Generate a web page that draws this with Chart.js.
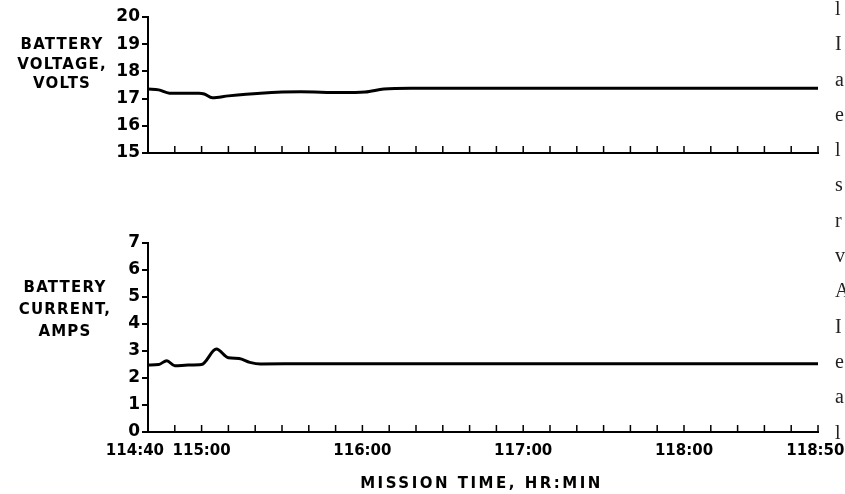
<!DOCTYPE html>
<html>
<head>
<meta charset="utf-8">
<script src="https://cdn.jsdelivr.net/npm/chart.js@4.4.1/dist/chart.umd.min.js"></script>
<style>
  html, body { margin: 0; padding: 0; background: #fff; overflow: hidden; }
  body { width: 845px; height: 494px; position: relative; font-family: "DejaVu Sans", sans-serif; }
  .box { position: absolute; left: 0; width: 845px; }
  .label { position: absolute; text-align: center; font-weight: bold; font-size: 15px; letter-spacing: 1.2px; line-height: 19.5px; color: #000; }
  #xTitle { position: absolute; left: 0; width: 845px; top: 474px; text-align: center; font-weight: bold; font-size: 15px; letter-spacing: 2.5px; padding-left: 118px; box-sizing: border-box; }
  #edge { position: absolute; left: 835px; top: -9px; font-family: "Liberation Serif", serif; font-size: 20px; line-height: 35.3px; color: #222; }
</style>
</head>
<body>
<div class="box" style="top:0;height:170px"><canvas id="voltChart"></canvas></div>
<div class="box" style="top:230px;height:264px"><canvas id="ampChart"></canvas></div>
<div class="label" style="left:2px;top:35px;width:120px">BATTERY<br>VOLTAGE,<br>VOLTS</div>
<div class="label" style="left:5px;top:276px;width:120px;line-height:22px">BATTERY<br>CURRENT,<br>AMPS</div>
<div id="xTitle">MISSION TIME, HR:MIN</div>
<div id="edge">l<br>I<br>a<br>e<br>l<br>s<br>r<br>v<br>A<br>I<br>e<br>a<br>l</div>
<script>
// minutes after 114:40
const voltMinutes = [0, 4, 8, 14, 19, 21, 24, 30, 42, 57, 72, 81, 88, 98, 150, 200, 250];
const voltValues = [17.35, 17.32, 17.2, 17.2, 17.2, 17.17, 17.03, 17.1, 17.2, 17.25, 17.22, 17.24, 17.35, 17.38, 17.38, 17.38, 17.38];
const ampMinutes = [0, 4, 7, 10, 15, 20, 25.5, 30, 34, 38, 42, 60, 120, 180, 250];
const ampValues = [2.48, 2.5, 2.64, 2.45, 2.48, 2.5, 3.07, 2.75, 2.72, 2.58, 2.52, 2.53, 2.53, 2.53, 2.53];
const tickMinutes = [0, 20, 80, 140, 200, 250];
const tickText = ['114:40     ', '115:00', '116:00', '117:00', '118:00', '118:50 '];

Chart.defaults.font.family = '"DejaVu Sans", sans-serif';
Chart.defaults.color = '#000';

// x ticks drawn upward inside the plot, every 10 minutes
const innerTicks = {
    id: 'innerTicks',
    afterDraw(chart) {
        const ctx = chart.ctx;
        const xs = chart.scales.x;
        const bottom = chart.chartArea.bottom;
        ctx.save();
        ctx.strokeStyle = '#000';
        ctx.lineWidth = 1.5;
        xs.ticks.forEach(t => {
            const x = xs.getPixelForValue(t.value);
            ctx.beginPath();
            ctx.moveTo(x, bottom);
            ctx.lineTo(x, bottom - 7);
            ctx.stroke();
        });
        ctx.restore();
    }
};

function makeChart(id, xs, ys, yMin, yMax, showLabels, pad, xHeight) {
    const points = xs.map((x, i) => ({ x: x, y: ys[i] }));
    return new Chart(document.getElementById(id), {
        type: 'line',
        data: {
            datasets: [{
                data: points,
                borderColor: '#000',
                borderWidth: 3,
                pointRadius: 0,
                cubicInterpolationMode: 'monotone',
                fill: false
            }]
        },
        options: {
            responsive: true,
            maintainAspectRatio: false,
            animation: false,
            layout: { padding: pad },
            plugins: { legend: { display: false }, tooltip: { enabled: false } },
            scales: {
                x: {
                    type: 'linear',
                    min: 0,
                    max: 250,
                    grid: { display: false },
                    border: { display: true, color: '#000', width: 2 },
                    ticks: {
                        display: showLabels,
                        stepSize: 10,
                        autoSkip: false,
                        maxRotation: 0,
                        padding: 2,
                        font: { size: 15, weight: 'bold' },
                        callback: v => {
                            const i = tickMinutes.indexOf(v);
                            return i >= 0 ? tickText[i] : '';
                        }
                    },
                    afterFit: s => {
                        s.height = xHeight;
                        s.paddingLeft = 0;
                        s.paddingRight = 0;
                    }
                },
                y: {
                    min: yMin,
                    max: yMax,
                    grid: { drawOnChartArea: false, drawTicks: true, tickLength: 6, color: '#000', lineWidth: 2 },
                    border: { display: true, color: '#000', width: 2 },
                    ticks: { stepSize: 1, padding: 2, font: { size: 17, weight: 'bold' } },
                    afterFit: s => { s.width = 148; }
                }
            }
        },
        plugins: [innerTicks]
    });
}

makeChart('voltChart', voltMinutes, voltValues, 15, 20, false, { left: 0, top: 17, right: 27, bottom: 17 }, 0);
makeChart('ampChart', ampMinutes, ampValues, 0, 7, true, { left: 0, top: 13, right: 27, bottom: 0 }, 62);
</script>
</body>
</html>
